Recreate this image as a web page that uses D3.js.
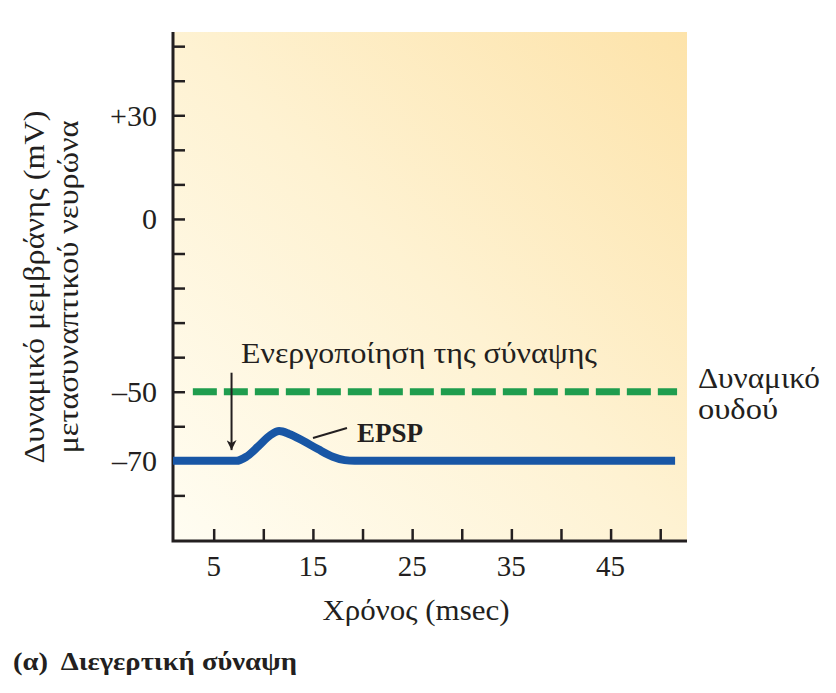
<!DOCTYPE html>
<html><head><meta charset="utf-8">
<script src="https://cdn.jsdelivr.net/npm/d3@7"></script>
<style>body{margin:0;background:#fff}svg{display:block}text{font-family:"Liberation Serif","Times New Roman",serif;fill:#231f20}</style>
</head><body><div id="chart"></div>
<script>
// ---- data ----
const epspTime    = [0.9, 7.3, 8.3, 9.5, 10.7, 11.6, 12.6, 14, 15.5, 17, 18.2, 19.2, 51.5];
const epspVoltage = [-70, -70, -68.8, -65.8, -62.6, -61.4, -62.2, -64.2, -66.6, -68.8, -69.8, -70, -70];
const thresholdValue = -50;
const thresholdTime = [2.9, 51.7];
const yTicks = [-80,-70,-60,-50,-40,-30,-20,-10,0,10,20,30,40,50];
const yTickLabels = {"-70":"\u201370","-50":"\u201350","0":"0","30":"+30"};
const xTicks = [5,10,15,20,25,30,35,40,45,50];
const xTickLabels = [5,15,25,35,45];
const stimulusTime = 6.8, stimulusFrom = -44.5, stimulusTo = -66.9;

const W=836,H=693;
const svg=d3.select("#chart").append("svg").attr("width",W).attr("height",H);
const x=d3.scaleLinear().domain([0.9,52.7]).range([173,687]);
const y=d3.scaleLinear().domain([-93.2,54.1]).range([541,32]);

const defs=svg.append("defs");
const g=defs.append("linearGradient").attr("id","bg").attr("x1","0%").attr("y1","100%").attr("x2","100%").attr("y2","0%");
g.append("stop").attr("offset","0%").attr("stop-color","#fffdf2");
g.append("stop").attr("offset","50%").attr("stop-color","#fef2d2");
g.append("stop").attr("offset","100%").attr("stop-color","#fde3aa");
defs.append("marker").attr("id","ah").attr("viewBox","0 0 10 10").attr("refX",10).attr("refY",5)
  .attr("markerWidth",10).attr("markerHeight",10).attr("markerUnits","userSpaceOnUse").attr("orient","auto")
  .append("path").attr("d","M0,0 L10,5 L0,10 L3,5 Z").attr("fill","#231f20");

svg.append("rect").attr("x",x.range()[0]).attr("y",y.range()[1]).attr("width",x.range()[1]-x.range()[0]).attr("height",y.range()[0]-y.range()[1]).attr("fill","url(#bg)");

// axes
const yAxis=svg.append("g").attr("transform",`translate(${x.range()[0]},0)`)
  .call(d3.axisRight(y).tickValues(yTicks).tickSize(12).tickFormat(""));
const xAxis=svg.append("g").attr("transform",`translate(0,${y.range()[0]})`)
  .call(d3.axisTop(x).tickValues(xTicks).tickSize(12).tickFormat(""));
[yAxis,xAxis].forEach(a=>{a.select(".domain").remove();a.selectAll("line").attr("stroke","#231f20").attr("stroke-width",2.5);});
svg.append("path").attr("d",`M${x.range()[0]},${y.range()[1]}V${y.range()[0]}H${x.range()[1]}`).attr("fill","none").attr("stroke","#231f20").attr("stroke-width",3);

svg.selectAll(".ylab").data(Object.keys(yTickLabels)).enter().append("text")
  .attr("x",157).attr("y",d=>y(+d)).attr("dy","0.35em").attr("text-anchor","end").attr("font-size",30).text(d=>yTickLabels[d]);
svg.selectAll(".xlab").data(xTickLabels).enter().append("text")
  .attr("x",d=>x(d)).attr("y",576).attr("text-anchor","middle").attr("font-size",29).text(d=>d);

// threshold
svg.append("line").attr("x1",x(thresholdTime[0])).attr("x2",x(thresholdTime[1])).attr("y1",y(thresholdValue)).attr("y2",y(thresholdValue))
  .attr("stroke","#1f9d4e").attr("stroke-width",7).attr("stroke-dasharray","24 7");

// EPSP
const line=d3.line().x((d,i)=>x(epspTime[i])).y(d=>y(d)).curve(d3.curveMonotoneX);
svg.append("path").attr("d",line(epspVoltage)).attr("fill","none").attr("stroke","#1856a5").attr("stroke-width",8).attr("stroke-linejoin","round");

// annotations
svg.append("line").attr("x1",x(stimulusTime)).attr("x2",x(stimulusTime)).attr("y1",y(stimulusFrom)).attr("y2",y(stimulusTo))
  .attr("stroke","#231f20").attr("stroke-width",2).attr("marker-end","url(#ah)");
svg.append("text").attr("x",241).attr("y",363).attr("font-size",29).attr("textLength",356).attr("lengthAdjust","spacingAndGlyphs").text("Ενεργοποίηση της σύναψης");
svg.append("line").attr("x1",313).attr("y1",438).attr("x2",347).attr("y2",428).attr("stroke","#231f20").attr("stroke-width",2);
svg.append("text").attr("x",357).attr("y",442).attr("font-size",27).attr("font-weight","bold").text("EPSP");
svg.append("text").attr("x",698).attr("y",388).attr("font-size",29).attr("textLength",122).attr("lengthAdjust","spacingAndGlyphs").text("Δυναμικό");
svg.append("text").attr("x",698).attr("y",419).attr("font-size",29).attr("textLength",80).attr("lengthAdjust","spacingAndGlyphs").text("ουδού");

// titles
svg.append("text").attr("x",416).attr("y",620).attr("text-anchor","middle").attr("font-size",29).attr("textLength",187).attr("lengthAdjust","spacingAndGlyphs").text("Χρόνος (msec)");
svg.append("text").attr("transform","translate(44,287) rotate(-90)").attr("text-anchor","middle").attr("font-size",30).attr("textLength",353).attr("lengthAdjust","spacingAndGlyphs").text("Δυναμικό μεμβράνης (mV)");
svg.append("text").attr("transform","translate(78,287) rotate(-90)").attr("text-anchor","middle").attr("font-size",30).attr("textLength",333).attr("lengthAdjust","spacingAndGlyphs").text("μετασυναπτικού νευρώνα");
svg.append("text").attr("x",13).attr("y",670).attr("font-size",26).attr("font-weight","bold").attr("xml:space","preserve").attr("textLength",284).attr("lengthAdjust","spacingAndGlyphs").text("(α)  Διεγερτική σύναψη");
</script></body></html>
